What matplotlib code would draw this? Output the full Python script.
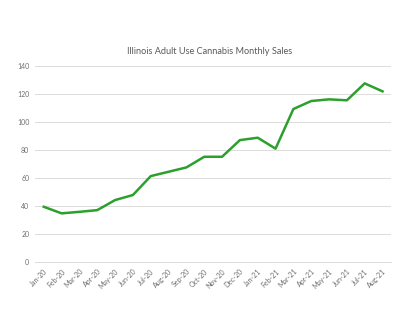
import matplotlib.pyplot as plt
import numpy as np

months = ["Jan-20", "Feb-20", "Mar-20", "Apr-20", "May-20", "Jun-20", "Jul-20",
          "Aug-20", "Sep-20", "Oct-20", "Nov-20", "Dec-20", "Jan-21", "Feb-21",
          "Mar-21", "Apr-21", "May-21", "Jun-21", "Jul-21", "Aug-21"]
sales = [39.5, 34.8, 35.9, 37.1, 44.3, 47.9, 61.4, 64.5, 67.6, 75.2,
         75.2, 87.1, 88.8, 81.0, 109.3, 115.0, 116.2, 115.5, 127.6, 121.9]
yticks = [0, 20, 40, 60, 80, 100, 120, 140]

plt.rcParams["font.family"] = ["Lato", "DejaVu Sans"]

fig = plt.figure(figsize=(4.2, 3.22), dpi=100)
ax = fig.add_axes([0.083, 0.186, 0.849, 0.609])

x = np.arange(len(months))
ax.plot(x, sales, color="#2ca02c", linewidth=1.8, solid_joinstyle="round")

ax.set_xlim(-0.5, len(months) - 0.5)
ax.set_ylim(0, 140)
ax.set_yticks(yticks)
ax.set_xticks(x)
ax.set_xticklabels(months, rotation=45, ha="right", rotation_mode="anchor")
ax.tick_params(axis="both", length=0, labelsize=5, colors="#6e6e6e", pad=4)
ax.grid(axis="y", color="#dcdcdc", linewidth=0.7)
ax.set_axisbelow(True)
for side in ["top", "right", "left"]:
    ax.spines[side].set_visible(False)
ax.spines["bottom"].set_color("#dcdcdc")
ax.spines["bottom"].set_linewidth(0.7)

fig.text(0.5, 0.84, "Illinois Adult Use Cannabis Monthly Sales",
         ha="center", va="center", fontsize=6.6, color="#595959")

fig.savefig("out.png", dpi=100)
